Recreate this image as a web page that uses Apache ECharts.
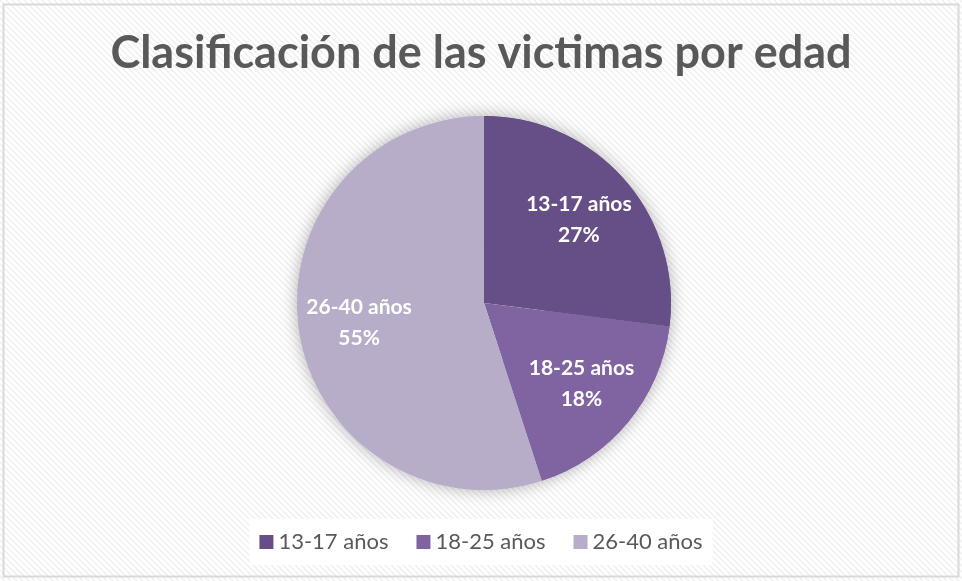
<!DOCTYPE html>
<html>
<head>
<meta charset="utf-8">
<script src="https://cdn.jsdelivr.net/npm/echarts@6/dist/echarts.min.js"></script>
<style>
  html, body { margin: 0; padding: 0; background: #fff; }
  #main { width: 962px; height: 581px; }
</style>
</head>
<body>
<div id="main"></div>
<script>
var categorias = ['13-17 años', '18-25 años', '26-40 años'];
var valores = [27, 18, 55];
var colores = ['#664f86', '#8064a2', '#b8adc9'];

// fondo rayado
var patron = document.createElement('canvas');
patron.width = 6;
patron.height = 6;
var ctx = patron.getContext('2d');
ctx.fillStyle = '#ffffff';
ctx.fillRect(0, 0, 6, 6);
ctx.strokeStyle = '#efefef';
ctx.lineWidth = 1.5;
ctx.beginPath();
ctx.moveTo(-1, -1); ctx.lineTo(7, 7);
ctx.moveTo(-4, 2); ctx.lineTo(4, 10);
ctx.moveTo(2, -4); ctx.lineTo(10, 4);
ctx.stroke();

var datos = categorias.map(function (c, i) {
    return { name: c, value: valores[i], itemStyle: { color: colores[i] } };
});
var total = valores.reduce(function (a, b) { return a + b; }, 0);

var dom = document.getElementById('main');
var myChart = echarts.init(dom, null, { renderer: 'canvas' });

var option = {
    backgroundColor: { image: patron, repeat: 'repeat' },
    animation: false,
    title: {
        text: 'Clasificación de las victimas por edad',
        left: 'center',
        top: 26,
        textStyle: {
            fontFamily: 'Lato',
            fontSize: 45,
            fontWeight: 'bold',
            color: '#595959'
        }
    },
    legend: {
        bottom: 16,
        left: 'center',
        itemWidth: 14,
        itemHeight: 14,
        itemGap: 28,
        icon: 'rect',
        backgroundColor: '#ffffff',
        padding: [12, 10, 12, 10],
        textStyle: { fontFamily: 'Lato', fontSize: 22, color: '#595959' },
        data: categorias
    },
    graphic: [{
        type: 'rect',
        shape: { x: 3.5, y: 4.5, width: 955, height: 572 },
        style: { fill: 'none', stroke: '#d9d9d9', lineWidth: 2 },
        silent: true
    }],
    series: [{
        // sombra del círculo completo
        type: 'pie',
        center: [484, 303],
        radius: 187,
        silent: true,
        data: [{ name: 'total', value: total }],
        itemStyle: {
            color: '#ffffff',
            shadowBlur: 16,
            shadowColor: 'rgba(0,0,0,0.3)'
        },
        label: { show: false },
        labelLine: { show: false },
        z: 1
    }, {
        type: 'pie',
        center: [484, 303],
        radius: 187,
        startAngle: 90,
        clockwise: true,
        data: datos,
        label: { show: false },
        labelLine: { show: false },
        emphasis: { disabled: true },
        z: 2
    }, {
        type: 'pie',
        center: [484, 303],
        radius: [60, 187],
        startAngle: 90,
        clockwise: true,
        silent: true,
        data: datos,
        itemStyle: { color: 'rgba(0,0,0,0)' },
        label: {
            position: 'inside',
            formatter: '{b}\n{d}%',
            fontFamily: 'Lato',
            fontSize: 21,
            fontWeight: 'bold',
            color: '#ffffff',
            lineHeight: 31
        },
        labelLine: { show: false },
        z: 3
    }]
};

if (option && typeof option === 'object') {
    myChart.setOption(option);
}
window.addEventListener('resize', myChart.resize);
</script>
</body>
</html>
